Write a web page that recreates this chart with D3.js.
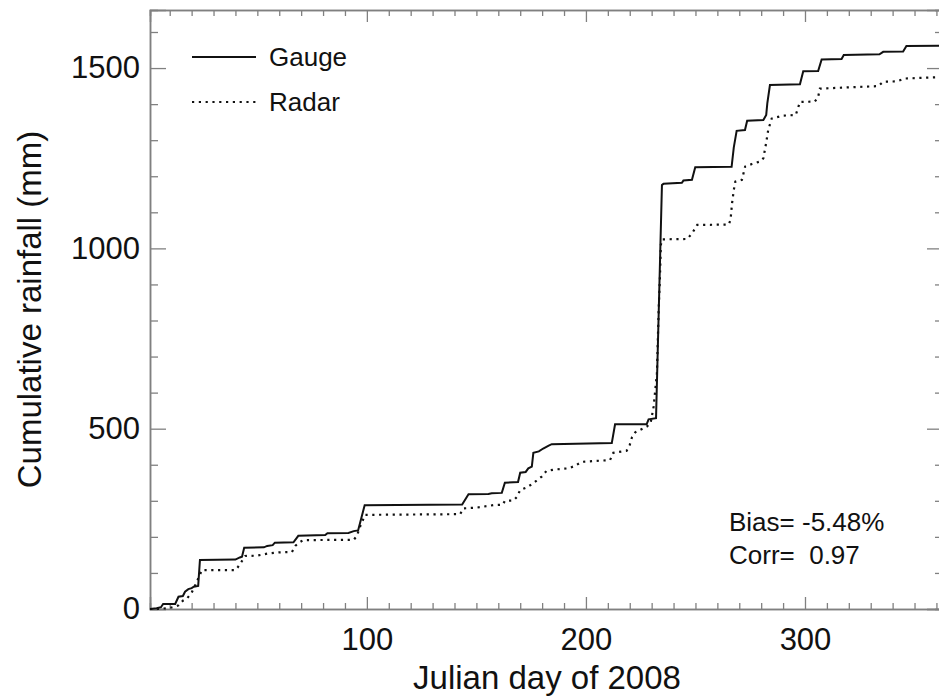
<!DOCTYPE html>
<html>
<head>
<meta charset="utf-8">
<script src="https://cdn.jsdelivr.net/npm/d3@7"></script>
<style>
  html, body { margin: 0; padding: 0; background: #fff; }
  svg { display: block; font-family: "Liberation Sans", Arial, Helvetica, sans-serif; }
</style>
</head>
<body>
<svg id="chart" width="939" height="698"></svg>
<script>
// Cumulative rainfall, 2008: rain gauge vs radar estimate (day of year, mm)
const gaugeDay = [1, 4, 6, 7, 12.5, 14, 16, 17, 18.5, 20, 21, 23, 23.8, 40, 42, 43, 44, 53, 54.5, 57, 58,
  66.5, 68.7, 81, 82, 91.6, 94, 96, 99, 143.5, 146.4, 155.5, 157, 161.6, 163, 169, 170, 172.5, 173.7,
  175.3, 176, 178.5, 180.5, 183, 184.4, 211.8, 213.3, 227.7, 228.6, 232, 234.7, 235.4, 243.8, 244.5,
  248.4, 249.9, 266.5, 267.5, 268.8, 272.6, 273.6, 281, 282.3, 282.8, 284, 297.7, 299.2, 306, 307.6,
  316.7, 317.7, 334, 335.7, 344.8, 346.3, 363];
const gaugeMm = [0, 2, 5, 14, 14, 34, 36, 48, 55, 58, 62, 64, 136, 137, 143, 145, 170, 171, 175, 177, 184,
  185, 203, 205, 210, 211, 216, 218, 288, 290, 318, 319, 321, 322, 350, 352, 378, 380, 390,
  395, 433, 437, 445, 453, 457, 460, 512, 512, 526, 529, 1176, 1179, 1182, 1188,
  1190, 1225, 1226, 1280, 1326, 1328, 1354, 1356, 1370, 1402, 1453, 1455, 1491, 1492, 1524,
  1525, 1536, 1538, 1545, 1546, 1561, 1562];

const radarDay = [1, 5, 10, 12, 14, 16, 18, 20, 22.4, 24.7, 40, 41, 44.5, 50, 55, 60, 65.8, 67.3, 69, 71,
  94, 95.4, 97, 99.2, 142.6, 144, 150, 157.8, 162, 163, 167, 168.4, 170, 173, 175, 177.5, 179.8, 182,
  186, 192, 195, 198, 211, 212.5, 218.6, 220, 221, 222.5, 227.8, 229.5, 230.9, 232.4, 233.2, 233.8,
  234.2, 234.8, 246.2, 248.5, 250.8, 265.2, 266, 266.7, 267.5, 268.2, 271.2, 272.7, 275.8, 279.6, 281,
  282.2, 283.2, 284.8, 290, 295.8, 297.7, 304.5, 306, 306.8, 333.4, 335.7, 341.8, 345.6, 363];
const radarMm = [0, 0, 3, 6, 10, 23, 30, 45, 76, 108, 108, 115, 147, 148, 154, 157, 158, 175, 184, 191,
  192, 202, 230, 261, 263, 279, 281, 288, 289, 300, 301, 310, 330, 337, 345, 356, 367, 383,
  387, 390, 397, 408, 413, 433, 439, 455, 476, 490, 506, 515, 561, 654, 829, 922,
  1010, 1025, 1026, 1042, 1065, 1066, 1079, 1125, 1162, 1185, 1190, 1227, 1234, 1241, 1250,
  1290, 1328, 1360, 1368, 1370, 1406, 1407, 1420, 1443, 1450, 1462, 1463, 1471, 1475];

const xMajorTicks = [100, 200, 300];
const yMajorTicks = [0, 500, 1000, 1500];
const seriesNames = ["Gauge", "Radar"];
const statLines = ["Bias= -5.48%", "Corr=  0.97"];
const xTitle = "Julian day of 2008";
const yTitle = "Cumulative rainfall (mm)";

const svg = d3.select("#chart");
const L = 150, R = 943, T = 10, B = 609;
const axisColor = "#808080";

const x = d3.scaleLinear().domain([1, 363]).range([L, R]);
const y = d3.scaleLinear().domain([0, 1661]).range([B, T]);

const xMinor = d3.range(10, 363, 10).filter(d => !xMajorTicks.includes(d));
const yMinor = d3.range(100, 1661, 100).filter(d => !yMajorTicks.includes(d));

function styleAxis(g) {
  g.select(".domain").attr("stroke", axisColor).attr("stroke-width", 1.5);
  g.selectAll(".tick line").attr("stroke", axisColor).attr("stroke-width", 1.3);
}

// bottom axis: labelled major ticks + minor ticks, both pointing inward
const bottomMajor = svg.append("g").attr("transform", `translate(0,${B})`)
  .call(d3.axisBottom(x).tickValues(xMajorTicks).tickSize(-12).tickPadding(19).tickFormat(d3.format("d")));
bottomMajor.call(styleAxis);
bottomMajor.selectAll(".tick text").attr("font-size", 31).attr("fill", "#111")
  .attr("font-family", "Liberation Sans, Arial, sans-serif");
svg.append("g").attr("transform", `translate(0,${B})`)
  .call(d3.axisBottom(x).tickValues(xMinor).tickSize(-6).tickFormat(""))
  .call(styleAxis);

// top axis
svg.append("g").attr("transform", `translate(0,${T})`)
  .call(d3.axisTop(x).tickValues(xMajorTicks).tickSize(-12).tickFormat(""))
  .call(styleAxis);
svg.append("g").attr("transform", `translate(0,${T})`)
  .call(d3.axisTop(x).tickValues(xMinor).tickSize(-6).tickFormat(""))
  .call(styleAxis);

// left axis
const leftMajor = svg.append("g").attr("transform", `translate(${L},0)`)
  .call(d3.axisLeft(y).tickValues(yMajorTicks).tickSize(-16).tickPadding(10).tickFormat(d3.format("d")));
leftMajor.call(styleAxis);
leftMajor.selectAll(".tick text").attr("font-size", 31).attr("fill", "#111")
  .attr("font-family", "Liberation Sans, Arial, sans-serif");
svg.append("g").attr("transform", `translate(${L},0)`)
  .call(d3.axisLeft(y).tickValues(yMinor).tickSize(-8).tickFormat(""))
  .call(styleAxis);

// right axis
svg.append("g").attr("transform", `translate(${R},0)`)
  .call(d3.axisRight(y).tickValues(yMajorTicks).tickSize(-16).tickFormat(""))
  .call(styleAxis);
svg.append("g").attr("transform", `translate(${R},0)`)
  .call(d3.axisRight(y).tickValues(yMinor).tickSize(-8).tickFormat(""))
  .call(styleAxis);

// axis titles
svg.append("text").attr("x", 547).attr("y", 689)
  .attr("text-anchor", "middle").attr("font-size", 33).attr("fill", "#111").text(xTitle);
svg.append("text").attr("transform", `translate(41,${(T + B) / 2}) rotate(-90)`)
  .attr("text-anchor", "middle").attr("font-size", 33).attr("fill", "#111").text(yTitle);

// series lines
const line = d3.line().x(d => x(d[0])).y(d => y(d[1]));
const gauge = d3.zip(gaugeDay, gaugeMm);
const radar = d3.zip(radarDay, radarMm);

const plot = svg.append("g");
plot.append("path").datum(radar).attr("d", line)
  .attr("fill", "none").attr("stroke", "#111").attr("stroke-width", 2.2)
  .attr("stroke-dasharray", "2.2,4.6");
plot.append("path").datum(gauge).attr("d", line)
  .attr("fill", "none").attr("stroke", "#111").attr("stroke-width", 2);

// legend
const legend = svg.append("g");
const legendRows = [57, 102];
seriesNames.forEach((name, i) => {
  legend.append("line").attr("x1", 192).attr("x2", 256)
    .attr("y1", legendRows[i]).attr("y2", legendRows[i])
    .attr("stroke", "#111").attr("stroke-width", 2)
    .attr("stroke-dasharray", i === 1 ? "2.2,4.6" : null);
  legend.append("text").attr("x", 269).attr("y", legendRows[i] + 9)
    .attr("font-size", 26).attr("fill", "#111").text(name);
});

// statistics annotation
statLines.forEach((t, i) => {
  svg.append("text").attr("x", 729).attr("y", 531 + i * 33)
    .attr("font-size", 26).attr("fill", "#111")
    .attr("xml:space", "preserve").style("white-space", "pre").text(t);
});
</script>
</body>
</html>
